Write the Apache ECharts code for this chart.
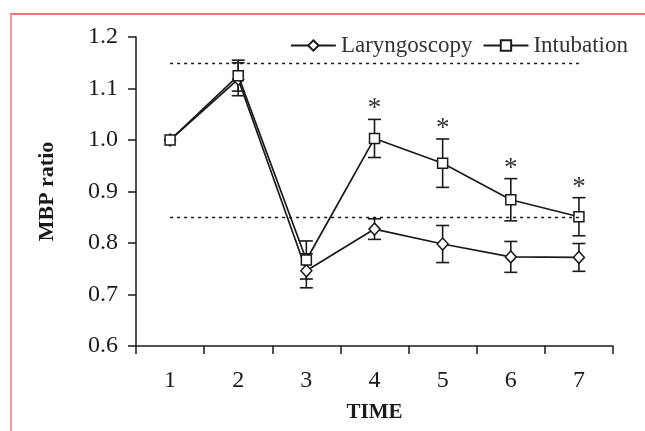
<!DOCTYPE html>
<html>
<head>
<meta charset="utf-8">
<script src="https://cdn.jsdelivr.net/npm/echarts@6/dist/echarts.min.js"></script>
<style>
html,body{margin:0;padding:0;background:#fff;}
#chart{width:645px;height:431px;}
</style>
</head>
<body>
<div id="chart"></div>
<script>
const categories = ['1', '2', '3', '4', '5', '6', '7'];
const laryngoscopy = [1.0, 1.118, 0.746, 0.827, 0.798, 0.773, 0.772];
const laryngoscopyErr = [0, 0.032, 0.033, 0.02, 0.036, 0.03, 0.027];
const intubation = [1.0, 1.125, 0.767, 1.003, 0.955, 0.884, 0.851];
const intubationErr = [0, 0.03, 0.037, 0.037, 0.047, 0.041, 0.037];
const significant = [false, false, false, true, true, true, true];
const referenceLines = [1.15, 0.85];
const yMin = 0.6, yMax = 1.2, yStep = 0.1;

const FONT = '"Liberation Serif", "DejaVu Serif", serif';
const INK = '#1a1a1a';

function errorBars(means, errs, stars) {
  return function (params, api) {
    const i = api.value(0);
    const m = means[i], e = errs[i];
    const children = [];
    if (e > 0) {
      const top = api.coord([i, m + e]);
      const bot = api.coord([i, m - e]);
      const w = 6.5;
      const st = { stroke: INK, lineWidth: 1.6 };
      children.push({ type: 'line', shape: { x1: top[0], y1: top[1], x2: bot[0], y2: bot[1] }, style: st });
      children.push({ type: 'line', shape: { x1: top[0] - w, y1: top[1], x2: top[0] + w, y2: top[1] }, style: st });
      children.push({ type: 'line', shape: { x1: bot[0] - w, y1: bot[1], x2: bot[0] + w, y2: bot[1] }, style: st });
      if (stars && stars[i]) {
        children.push({ type: 'text', style: { text: '*', x: top[0], y: top[1] - 10, align: 'center', verticalAlign: 'middle', font: '27px ' + FONT, fill: '#333' } });
      }
    }
    return { type: 'group', children: children };
  };
}

const chart = echarts.init(document.getElementById('chart'));
chart.setOption({
  animation: false,
  backgroundColor: '#fff',
  graphic: [
    { type: 'line', shape: { x1: 10, y1: 14, x2: 645, y2: 14 }, style: { stroke: '#e8474c', lineWidth: 1.5 } },
    { type: 'line', shape: { x1: 11, y1: 14, x2: 11, y2: 431 }, style: { stroke: '#f4999b', lineWidth: 2 } }
  ],
  grid: { left: 136, right: 32, top: 37, bottom: 85 },
  legend: {
    right: 12, top: 29,
    itemWidth: 45, itemHeight: 13, itemGap: 10,
    textStyle: { fontFamily: FONT, fontSize: 23, color: '#333' },
    data: ['Laryngoscopy', 'Intubation']
  },
  xAxis: {
    type: 'category',
    data: categories,
    boundaryGap: true,
    name: 'TIME',
    nameLocation: 'middle',
    nameGap: 56,
    nameTextStyle: { fontFamily: FONT, fontSize: 21, fontWeight: 'bold', color: INK },
    axisLine: { lineStyle: { color: INK, width: 1.5 } },
    axisTick: { show: true, length: 8, lineStyle: { color: INK, width: 1.5 } },
    axisLabel: { fontFamily: FONT, fontSize: 24, color: INK, margin: 23 },
    splitLine: { show: false }
  },
  yAxis: {
    type: 'value',
    min: yMin, max: yMax, interval: yStep,
    name: 'MBP ratio',
    nameLocation: 'middle',
    nameGap: 78,
    nameRotate: 90,
    nameTextStyle: { fontFamily: FONT, fontSize: 22, fontWeight: 'bold', color: INK },
    axisLine: { show: true, lineStyle: { color: INK, width: 1.5 } },
    axisTick: { show: true, length: 8, lineStyle: { color: INK, width: 1.5 } },
    axisLabel: { fontFamily: FONT, fontSize: 24, color: INK, margin: 18, formatter: v => v.toFixed(1) },
    splitLine: { show: false }
  },
  series: [
    {
      name: 'Laryngoscopy', type: 'line', data: laryngoscopy, z: 3,
      symbol: 'diamond', symbolSize: [11, 12],
      itemStyle: { color: '#fff', borderColor: INK, borderWidth: 1.5 },
      lineStyle: { color: INK, width: 1.7 },
      markLine: {
        silent: true, symbol: 'none', label: { show: false },
        lineStyle: { color: INK, width: 1.3, type: [3, 4] },
        data: referenceLines.map(v => [{ coord: [0, v] }, { coord: [6, v] }])
      }
    },
    {
      name: 'Intubation', type: 'line', data: intubation, z: 4,
      symbol: 'rect', symbolSize: 10,
      itemStyle: { color: '#fff', borderColor: INK, borderWidth: 1.5 },
      lineStyle: { color: INK, width: 1.7 }
    },
    {
      type: 'custom', z: 2, silent: true,
      renderItem: errorBars(laryngoscopy, laryngoscopyErr, null),
      data: laryngoscopy.map((v, i) => [i, v]),
      encode: { x: 0, y: 1 }
    },
    {
      type: 'custom', z: 2, silent: true,
      renderItem: errorBars(intubation, intubationErr, significant),
      data: intubation.map((v, i) => [i, v]),
      encode: { x: 0, y: 1 }
    }
  ]
});
</script>
</body>
</html>
